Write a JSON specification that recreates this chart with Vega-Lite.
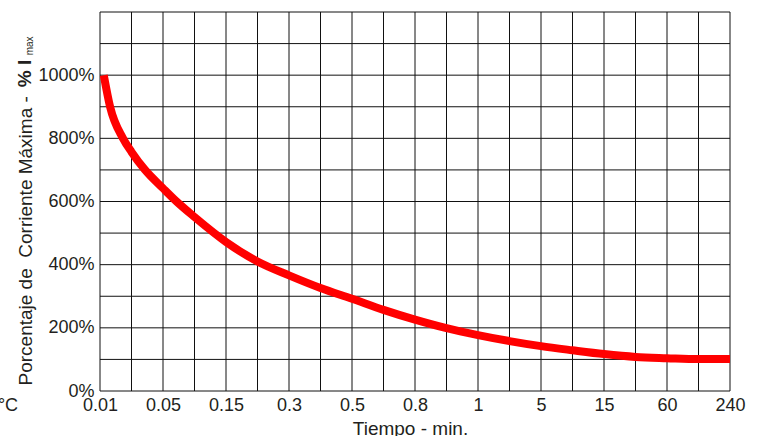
{
  "$schema": "https://vega.github.io/schema/vega-lite/v6.json",
  "autosize": "none",
  "width": 630,
  "height": 379,
  "padding": {"left": 100, "top": 12, "right": 31, "bottom": 45},
  "background": "white",
  "config": {
    "view": {"stroke": null},
    "font": "Liberation Sans",
    "axis": {"labelFont": "Liberation Sans", "titleFont": "Liberation Sans", "labelColor": "#231f20", "titleColor": "#231f20"}
  },
  "datasets": {
    "curve": [
      {"pos": 0.12, "pct": 1000},
      {"pos": 0.32, "pct": 900},
      {"pos": 0.73, "pct": 800},
      {"pos": 1, "pct": 757},
      {"pos": 1.43, "pct": 700},
      {"pos": 2, "pct": 642},
      {"pos": 2.43, "pct": 600},
      {"pos": 3, "pct": 551},
      {"pos": 4, "pct": 472},
      {"pos": 5, "pct": 410},
      {"pos": 6, "pct": 366},
      {"pos": 7, "pct": 326},
      {"pos": 8, "pct": 292},
      {"pos": 9, "pct": 257},
      {"pos": 10, "pct": 226},
      {"pos": 11, "pct": 199},
      {"pos": 12, "pct": 177},
      {"pos": 13, "pct": 158},
      {"pos": 14, "pct": 142},
      {"pos": 15, "pct": 129},
      {"pos": 16, "pct": 117},
      {"pos": 17, "pct": 108},
      {"pos": 18, "pct": 104},
      {"pos": 19, "pct": 101},
      {"pos": 20, "pct": 101}
    ],
    "vgrid": [
      {"pos": 0}, {"pos": 1}, {"pos": 2}, {"pos": 3}, {"pos": 4}, {"pos": 5}, {"pos": 6},
      {"pos": 7}, {"pos": 8}, {"pos": 9}, {"pos": 10}, {"pos": 11}, {"pos": 12}, {"pos": 13},
      {"pos": 14}, {"pos": 15}, {"pos": 16}, {"pos": 17}, {"pos": 18}, {"pos": 19}, {"pos": 20}
    ],
    "hgrid": [
      {"pct": 0}, {"pct": 100}, {"pct": 200}, {"pct": 300}, {"pct": 400}, {"pct": 500}, {"pct": 600},
      {"pct": 700}, {"pct": 800}, {"pct": 900}, {"pct": 1000}, {"pct": 1100}, {"pct": 1200}
    ],
    "note": [{"pos": -2.6, "pct": -48, "txt": "°C"}],
    "imax": [{"pos": -2.19, "pct": 962, "txt": "% I"}],
    "sub": [{"pos": -2.12, "pct": 1063, "txt": "max"}]
  },
  "layer": [
    {
      "data": {"name": "vgrid"},
      "mark": {"type": "rule", "color": "#111111", "strokeWidth": 1},
      "encoding": {
        "x": {"field": "pos", "type": "quantitative", "scale": {"domain": [0, 20], "nice": false, "zero": false},
          "axis": {
            "values": [0,2,4,6,8,10,12,14,16,18,20],
            "labelExpr": "['0.01','0.05','0.15','0.3','0.5','0.8','1','5','15','60','240'][datum.value / 2]",
            "grid": false, "ticks": false, "domain": false,
            "labelFontSize": 18, "labelPadding": 5, "labelFlush": false, "labelOverlap": false,
            "title": "Tiempo - min.", "titleFontSize": 19, "titleFontWeight": "normal",
            "titleY": 28, "titleX": 310, "titleBaseline": "top", "titleAlign": "center"
          }
        }
      }
    },
    {
      "data": {"name": "hgrid"},
      "mark": {"type": "rule", "color": "#111111", "strokeWidth": 1},
      "encoding": {
        "y": {"field": "pct", "type": "quantitative", "scale": {"domain": [0, 1200], "nice": false},
          "axis": {
            "values": [0,200,400,600,800,1000],
            "labelExpr": "datum.value + '%'",
            "grid": false, "ticks": false, "domain": false,
            "labelFontSize": 18, "labelPadding": 6, "labelOverlap": false,
            "title": "Porcentaje de\u00a0 Corriente Máxima -", "titleFontSize": 19, "titleFontWeight": "normal",
            "titleX": -69, "titleY": 373, "titleAngle": -90, "titleAlign": "left", "titleBaseline": "alphabetic"
          }
        }
      }
    },
    {
      "data": {"name": "curve"},
      "mark": {"type": "line", "color": "#ff0000", "strokeWidth": 8, "interpolate": "monotone", "strokeCap": "butt"},
      "encoding": {
        "x": {"field": "pos", "type": "quantitative"},
        "y": {"field": "pct", "type": "quantitative"}
      }
    },
    {
      "data": {"name": "note"},
      "mark": {"type": "text", "align": "right", "baseline": "middle", "fontSize": 18, "color": "#231f20"},
      "encoding": {
        "x": {"field": "pos", "type": "quantitative"},
        "y": {"field": "pct", "type": "quantitative"},
        "text": {"field": "txt"}
      }
    },
    {
      "data": {"name": "imax"},
      "mark": {"type": "text", "align": "left", "baseline": "alphabetic", "angle": 270, "fontSize": 19, "fontWeight": "bold", "color": "#231f20"},
      "encoding": {
        "x": {"field": "pos", "type": "quantitative"},
        "y": {"field": "pct", "type": "quantitative"},
        "text": {"field": "txt"}
      }
    },
    {
      "data": {"name": "sub"},
      "mark": {"type": "text", "align": "left", "baseline": "alphabetic", "angle": 270, "fontSize": 10, "color": "#231f20"},
      "encoding": {
        "x": {"field": "pos", "type": "quantitative"},
        "y": {"field": "pct", "type": "quantitative"},
        "text": {"field": "txt"}
      }
    }
  ]
}
